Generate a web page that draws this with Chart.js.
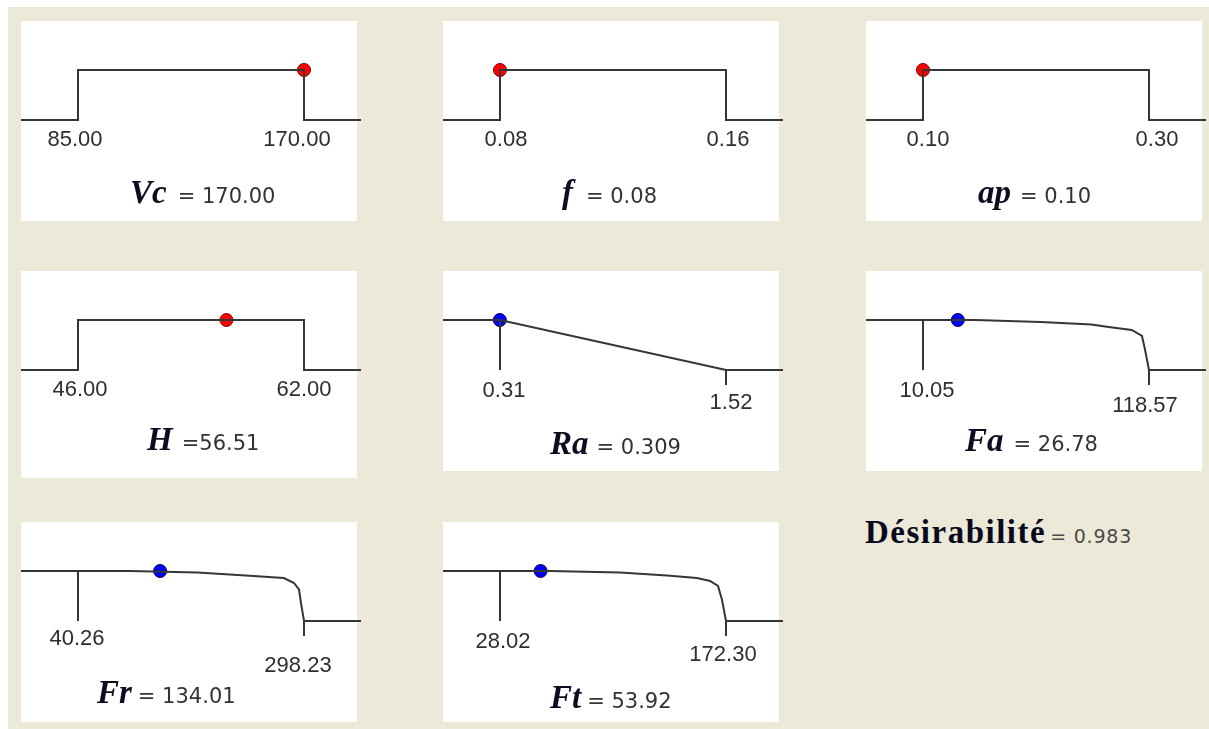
<!DOCTYPE html>
<html><head><meta charset="utf-8">
<script src="https://cdn.jsdelivr.net/npm/chart.js@4.4.0/dist/chart.umd.min.js"></script>
<style>
html,body{margin:0;padding:0;background:#fff;width:1209px;height:729px;overflow:hidden;}
#bg{position:absolute;left:8px;top:7px;width:1201px;height:722px;background:#ECE9D8;}
.panel{position:absolute;background:#fff;}
.panel canvas{position:absolute;left:0;top:0;}
#des{position:absolute;left:865px;top:514px;white-space:nowrap;line-height:33px;}
#des .v{font:bold 33px "Liberation Serif","Times New Roman",serif;color:#0a0a1e;letter-spacing:1.5px;}
#des .n{font:19px "DejaVu Sans",sans-serif;color:#4a4a4a;letter-spacing:0.8px;margin-left:4px;}
</style></head><body>
<div id="bg"></div>
<div id="panels"></div>
<div id="des"><span class="v">Désirabilité</span><span class="n">= 0.983</span></div>
<script>
// ---------- data ----------
const variables = ['Vc','f','ap','H','Ra','Fa','Fr','Ft'];
const goalTypes = ['range','range','range','range','min','min','min','min'];
const lowerBounds = [85.00, 0.08, 0.10, 46.00, 0.31, 10.05, 40.26, 28.02];
const upperBounds = [170.00, 0.16, 0.30, 62.00, 1.52, 118.57, 298.23, 172.30];
const lowerLabels = ['85.00','0.08','0.10','46.00','0.31','10.05','40.26','28.02'];
const upperLabels = ['170.00','0.16','0.30','62.00','1.52','118.57','298.23','172.30'];
const optimalValues = [170.00, 0.08, 0.10, 56.51, 0.309, 26.78, 134.01, 53.92];
const valueTexts = ['= 170.00','= 0.08','= 0.10','=56.51','= 0.309','= 26.78','= 134.01','= 53.92'];
const dotDesirability = [1,1,1,1,1,1,1,1];
// desirability curves of the minimised responses (x, d)
const raCurveX = [0.31, 1.52];
const raCurveD = [1, 0];
const faCurveX = [10.05, 35.2, 66.7, 90.9, 99.2, 110.3, 115.2, 116.6, 118.57];
const faCurveD = [1, 1, 0.96, 0.91, 0.86, 0.80, 0.68, 0.42, 0];
const frCurveX = [40.26, 99.9, 176.7, 231.7, 275.3, 286.8, 292.5, 294.8, 298.23];
const frCurveD = [1, 1, 0.97, 0.91, 0.86, 0.76, 0.63, 0.36, 0];
const ftCurveX = [28.02, 59.9, 104.6, 134.6, 153.8, 162.1, 167.2, 169.7, 172.30];
const ftCurveD = [1, 1, 0.97, 0.91, 0.86, 0.80, 0.70, 0.43, 0];
const curves = {Ra:[raCurveX, raCurveD], Fa:[faCurveX, faCurveD], Fr:[frCurveX, frCurveD], Ft:[ftCurveX, ftCurveD]};
const upperTickDepth = -0.3;

// ---------- layout ----------
const panelBoxes = [[21,21,336,200],[443,21,336,200],[866,21,336,200],[21,271,336,207],
                    [443,271,336,200],[866,271,336,200],[21,522,336,200],[443,522,336,200]];
const titlePos = [[109,182],[119,182],[112,182],[126,179],[107,183],[99,180],[76,181],[107,186]];
const titleGap = [11,13,9,9,8,10,6,6];
const labelNudge = [[-3,-7],[6,2],[5,8],[2,0],[4,5],[4,-4],[-1,-6],[3,-3]];
const lowerBaseline = [125,125,125,125,126,126,123,126];
const upperBaseline = [125,125,125,125,138,141,150,139];
const CW = 340, CH = 200, LPX = 57, UPX = 283, TOPPX = 49, ZEROPX = 99;

const host = document.getElementById('panels');
variables.forEach((name, i) => {
  const [px, py, pw, ph] = panelBoxes[i];
  const div = document.createElement('div');
  div.className = 'panel';
  div.style.cssText = `left:${px}px;top:${py}px;width:${pw}px;height:${ph}px;`;
  host.appendChild(div);
  const cv = document.createElement('canvas');
  cv.width = CW; cv.height = CH;
  cv.style.width = CW + 'px'; cv.style.height = CH + 'px';
  div.appendChild(cv);

  const L = lowerBounds[i], U = upperBounds[i];
  const per = (U - L) / (UPX - LPX);
  const xmin = L - LPX * per, xmax = L + (CW - LPX) * per;
  const dPer = 1 / (ZEROPX - TOPPX);
  const ymax = 1 + TOPPX * dPer, ymin = -(CH - ZEROPX) * dPer;

  const datasets = [];
  const lineStyle = {showLine:true, borderColor:'#363636', borderWidth:2, pointRadius:0, tension:0, clip:false};
  if (goalTypes[i] === 'range') {
    datasets.push({...lineStyle, data:[{x:xmin,y:0},{x:L,y:0},{x:L,y:1},{x:U,y:1},{x:U,y:0},{x:xmax,y:0}]});
  } else {
    const [cx, cd] = curves[name];
    const pts = [{x:xmin,y:1}];
    cx.forEach((v, k) => pts.push({x:v, y:cd[k]}));
    pts.push({x:xmax, y:0});
    datasets.push({...lineStyle, data:pts});
    datasets.push({...lineStyle, data:[{x:L,y:1},{x:L,y:0}]});
    datasets.push({...lineStyle, data:[{x:U,y:0},{x:U,y:upperTickDepth}]});
  }
  const isRed = goalTypes[i] === 'range';
  datasets.push({showLine:false, data:[{x:optimalValues[i], y:dotDesirability[i]}], pointRadius:6.5,
    pointBackgroundColor: isRed ? '#ff0000' : '#0000ff',
    pointBorderColor: isRed ? '#7a0000' : '#000050', pointBorderWidth:1, clip:false});

  const textPlugin = {
    id:'panelText',
    afterDraw(chart){
      const ctx = chart.ctx, xs = chart.scales.x;
      ctx.save();
      ctx.fillStyle = '#2e2e2e';
      ctx.font = '22px "Liberation Sans", Arial, sans-serif';
      ctx.textAlign = 'center';
      ctx.textBaseline = 'alphabetic';
      ctx.fillText(lowerLabels[i], xs.getPixelForValue(L) + labelNudge[i][0], lowerBaseline[i]);
      ctx.fillText(upperLabels[i], xs.getPixelForValue(U) + labelNudge[i][1], upperBaseline[i]);
      ctx.textAlign = 'left';
      const [tx, ty] = titlePos[i];
      ctx.font = 'italic bold 33px "Liberation Serif", "Times New Roman", serif';
      ctx.fillStyle = '#0c0c22';
      ctx.fillText(name, tx, ty);
      const w = ctx.measureText(name).width;
      ctx.font = '21px "DejaVu Sans", sans-serif';
      ctx.fillStyle = '#333';
      ctx.fillText(valueTexts[i], tx + w + titleGap[i], ty);
      ctx.restore();
    }
  };

  new Chart(cv, {
    type:'scatter',
    data:{datasets},
    options:{
      responsive:false, animation:false, events:[], devicePixelRatio:1,
      layout:{padding:0, autoPadding:false},
      plugins:{legend:{display:false}, tooltip:{enabled:false}, title:{display:false}},
      scales:{
        x:{type:'linear', display:false, min:xmin, max:xmax},
        y:{type:'linear', display:false, min:ymin, max:ymax}
      }
    },
    plugins:[textPlugin]
  });
});
</script>
</body></html>
